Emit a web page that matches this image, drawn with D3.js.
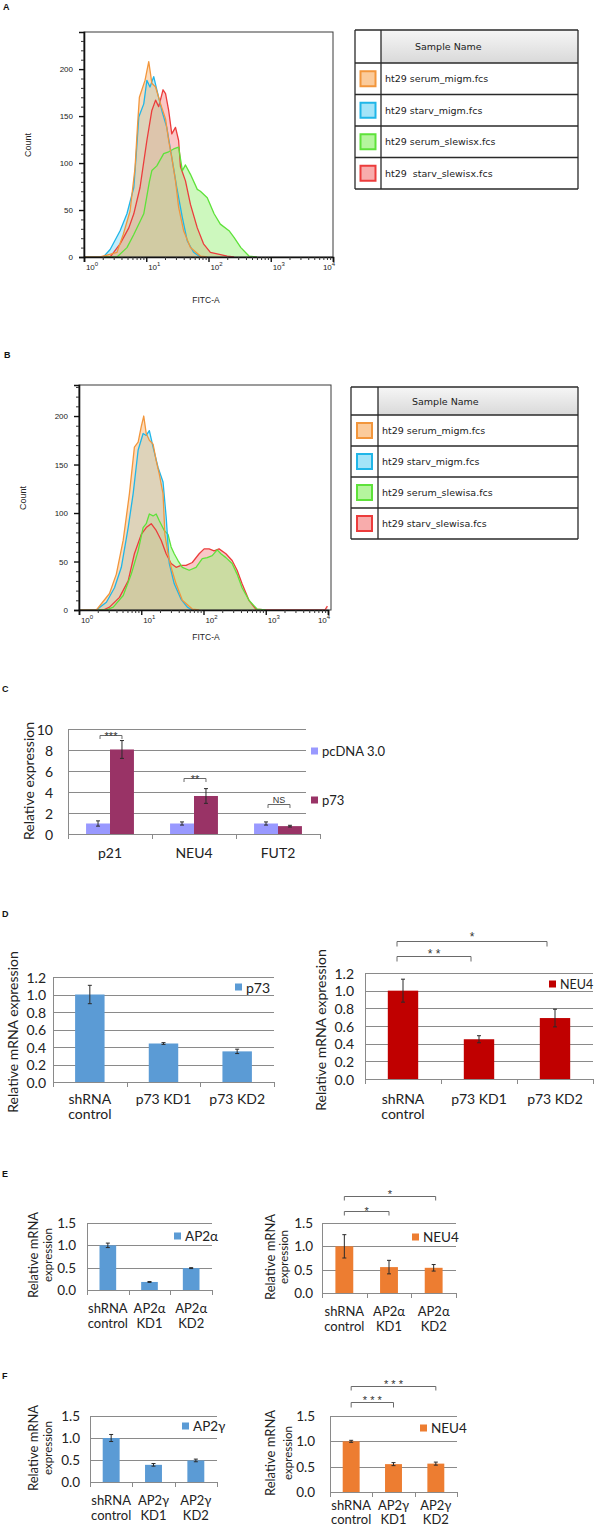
<!DOCTYPE html>
<html><head><meta charset="utf-8">
<script src="https://cdn.jsdelivr.net/npm/d3@7"></script>
<style>body{margin:0;background:#fff} svg{display:block;background:#fff}</style>
</head><body>
<svg id="c" width="594" height="1528"></svg>
<script>
// ---------------- DATA ----------------
// Flow cytometry histograms: [log10(FITC-A), count]
const flowTicksY = [0, 50, 100, 150, 200];
const flowTicksX = [1, 10, 100, 1000, 10000];
const flowTickExp = ["0", "1", "2", "3", "4"];
const flowNamesA = ["ht29 serum_migm.fcs", "ht29 starv_migm.fcs", "ht29 serum_slewisx.fcs", "ht29  starv_slewisx.fcs"];
const flowNamesB = ["ht29 serum_migm.fcs", "ht29 starv_migm.fcs", "ht29 serum_slewisa.fcs", "ht29 starv_slewisa.fcs"];

const aSerumMigm = [[0,0],[0.26,0],[0.53,5],[0.63,24],[0.74,49],[0.82,95],[0.86,140],[0.89,170],[0.93,178],[0.98,188],[1.04,208],[1.09,185],[1.15,181],[1.23,163],[1.31,147],[1.36,124],[1.41,106],[1.47,81],[1.52,53],[1.60,28],[1.71,10],[1.87,1],[1.98,0]];
const aStarvMigm = [[0,0],[0.31,0],[0.42,8],[0.58,28],[0.69,46],[0.80,74],[0.84,110],[0.88,149],[0.96,163],[1.01,188],[1.06,181],[1.12,192],[1.17,178],[1.25,156],[1.33,138],[1.41,106],[1.49,74],[1.58,42],[1.66,17],[1.76,5],[1.87,0]];
const aSerumSlewisx = [[0,0],[0.53,0],[0.69,10],[0.80,24],[0.96,46],[1.05,80],[1.09,92],[1.17,97],[1.28,110],[1.36,112],[1.44,115],[1.52,117],[1.58,92],[1.63,98],[1.71,88],[1.82,72],[1.87,70],[1.98,63],[2.09,46],[2.19,35],[2.33,28],[2.41,21],[2.52,10],[2.65,1],[2.78,0]];
const aStarvSlewisx = [[0,0],[0.42,0],[0.58,14],[0.72,31],[0.80,46],[0.90,74],[1.01,124],[1.09,156],[1.15,167],[1.20,160],[1.27,178],[1.31,174],[1.36,156],[1.41,131],[1.47,138],[1.52,124],[1.55,96],[1.63,81],[1.71,56],[1.82,31],[1.92,14],[2.03,5],[2.30,1],[2.41,0]];

const bSerumMigm = [[0,0],[0.28,0],[0.49,17],[0.60,37],[0.71,72],[0.81,120],[0.89,168],[0.95,173],[1.00,189],[1.04,200],[1.08,182],[1.13,175],[1.19,171],[1.24,154],[1.29,140],[1.35,120],[1.38,78],[1.43,58],[1.48,44],[1.56,27],[1.66,10],[1.82,1],[1.93,0]];
const bStarvMigm = [[0,0],[0.28,0],[0.34,3],[0.44,8],[0.57,23],[0.68,44],[0.79,85],[0.87,120],[0.95,165],[1.03,182],[1.08,180],[1.13,185],[1.19,168],[1.27,147],[1.35,132],[1.40,96],[1.45,48],[1.53,27],[1.64,11],[1.74,3],[1.82,0]];
const bSerumSlewisa = [[0,0],[0.44,0],[0.55,3],[0.71,15],[0.84,37],[0.95,61],[1.03,85],[1.08,89],[1.13,99],[1.19,97],[1.24,99],[1.29,92],[1.37,82],[1.43,78],[1.48,65],[1.53,58],[1.59,51],[1.66,44],[1.77,41],[1.88,44],[1.98,53],[2.06,54],[2.14,56],[2.22,62],[2.28,58],[2.36,54],[2.46,48],[2.54,37],[2.62,23],[2.73,10],[2.86,1],[3.00,0]];
const bStarvSlewisa = [[0,0],[0.39,0],[0.49,3],[0.65,13],[0.79,30],[0.89,58],[1.00,78],[1.08,85],[1.16,89],[1.24,82],[1.32,72],[1.40,58],[1.48,48],[1.56,44],[1.64,46],[1.72,46],[1.82,49],[1.93,58],[2.01,63],[2.09,63],[2.17,61],[2.25,63],[2.36,58],[2.46,51],[2.54,41],[2.62,27],[2.73,10],[2.84,1],[3.00,0],[3.95,0],[3.99,4]];

// Panel C
const cCategories = ["p21", "NEU4", "FUT2"];
const cSeriesNames = ["pcDNA 3.0", "p73"];
const cPcdna = [1.0, 1.0, 1.0];
const cPcdnaErr = [0.25, 0.15, 0.15];
const cP73 = [8.05, 3.62, 0.75];
const cP73Err = [0.85, 0.7, 0.08];
const cTicks = [0, 2, 4, 6, 8, 10];
const cSig = ["***", "**", "NS"];
const cSigLevel = [9.43, 5.33, 2.86];

// Panel D
const dCategories = [["shRNA", "control"], ["p73 KD1"], ["p73 KD2"]];
const dTicks = [0, 0.2, 0.4, 0.6, 0.8, 1.0, 1.2];
const dP73 = [1.0, 0.44, 0.35];
const dP73Err = [0.105, 0.01, 0.025];
const dNeu4 = [1.0, 0.45, 0.69];
const dNeu4Err = [0.13, 0.04, 0.1];
const dSig = ["* *", "*"];
const dSigLevel = [1.393, 1.563];

// Panel E
const eCategories = [["shRNA", "control"], ["AP2α", "KD1"], ["AP2α", "KD2"]];
const efTicks = [0, 0.5, 1.0, 1.5];
const eAp2a = [1.0, 0.18, 0.49];
const eAp2aErr = [0.05, 0.01, 0.01];
const eNeu4 = [1.0, 0.555, 0.54];
const eNeu4Err = [0.25, 0.145, 0.07];
const eSig = ["*", "*"];
const eSigLevel = [1.757, 2.078];

// Panel F
const fCategories = [["shRNA", "control"], ["AP2γ", "KD1"], ["AP2γ", "KD2"]];
const fAp2g = [1.0, 0.39, 0.49];
const fAp2gErr = [0.08, 0.03, 0.03];
const fNeu4 = [1.0, 0.55, 0.56];
const fNeu4Err = [0.02, 0.03, 0.03];
const fSig = ["* * *", "* * *"];
const fSigLevel = [1.776, 2.092];

// ---------------- DRAWING ----------------
const svg = d3.select("#c");
const ARIAL = "'Liberation Sans', Arial, sans-serif";
const CAL = "Lato, 'Noto Sans', 'DejaVu Sans', sans-serif";
const GRID = "#8a8a8a";

const defs = svg.append("defs");
const grad = defs.append("linearGradient").attr("id", "hdr").attr("x1", 0).attr("x2", 0).attr("y1", 0).attr("y2", 1);
grad.append("stop").attr("offset", "0%").attr("stop-color", "#f6f6f6");
grad.append("stop").attr("offset", "100%").attr("stop-color", "#d9d9d9");

function letter(t, x, y) {
  svg.append("text").attr("x", x).attr("y", y).text(t)
    .style("font-family", ARIAL).style("font-size", "9px").style("font-weight", "bold").attr("fill", "#111");
}
letter("A", 3, 10); letter("B", 4, 358); letter("C", 2, 692);
letter("D", 2, 917); letter("E", 2, 1177); letter("F", 2, 1379);

const flowStroke = ["#F2963C", "#20B6E8", "#5EE23A", "#EC3C3C"];
const flowFill = ["#F9B97A", "#86DBF6", "#9CF17E", "#F59090"];

function flowPanel(cfg, series, names) {
  const g = svg.append("g");
  const x = d3.scaleLog().domain([1, 1e4]).range([cfg.left, cfg.xEnd]);
  const y = d3.scaleLinear().domain([0, cfg.cMax]).range([cfg.bottom, cfg.top]);
  const area = d3.area().x(d => x(Math.pow(10, d[0]))).y0(y(0)).y1(d => y(d[1]));
  const line = d3.line().x(d => x(Math.pow(10, d[0]))).y(d => y(d[1]));
  const order = [3, 2, 1, 0];
  order.forEach(i => g.append("path").attr("d", area(series[i])).attr("fill", flowFill[i]).attr("fill-opacity", 0.5));
  order.forEach(i => g.append("path").attr("d", line(series[i])).attr("fill", "none")
    .attr("stroke", flowStroke[i]).attr("stroke-width", 1.3).attr("stroke-linejoin", "round"));
  g.append("rect").attr("x", cfg.left).attr("y", cfg.top).attr("width", cfg.right - cfg.left)
    .attr("height", cfg.bottom - cfg.top).attr("fill", "none").attr("stroke", "#3a3a3a").attr("stroke-width", 1);
  const ya = g.append("g").attr("transform", `translate(${cfg.left},0)`)
    .call(d3.axisLeft(y).tickValues(flowTicksY).tickSize(5).tickPadding(6).tickFormat(d3.format("d")));
  ya.select(".domain").attr("stroke", "#111").attr("stroke-width", 1.6);
  ya.selectAll(".tick line").attr("stroke", "#111").attr("stroke-width", 1.4);
  ya.selectAll("text").style("font-family", ARIAL).style("font-size", "8px").attr("fill", "#222");
  const ym = g.append("g").attr("transform", `translate(${cfg.left},0)`)
    .call(d3.axisLeft(y).tickValues(d3.range(10, cfg.cMax, 10).filter(v => v % 50 !== 0)).tickSize(3).tickFormat(""));
  ym.select(".domain").remove();
  ym.selectAll(".tick line").attr("stroke", "#333");
  const xa = g.append("g").attr("transform", `translate(0,${cfg.bottom})`)
    .call(d3.axisBottom(x).tickValues(flowTicksX).tickSize(5).tickFormat(""));
  xa.select(".domain").attr("stroke", "#111").attr("stroke-width", 1.6);
  xa.selectAll(".tick line").attr("stroke", "#111").attr("stroke-width", 1.4);
  const minors = [];
  for (let e = 0; e < 4; e++) for (let m = 2; m < 10; m++) minors.push(m * Math.pow(10, e));
  const xm = g.append("g").attr("transform", `translate(0,${cfg.bottom})`)
    .call(d3.axisBottom(x).tickValues(minors).tickSize(3).tickFormat(""));
  xm.select(".domain").remove();
  xm.selectAll(".tick line").attr("stroke", "#333");
  const lbl = g.selectAll(".xl").data(flowTicksX).join("text")
    .attr("x", (d, i) => x(d) + (i === 4 ? -4 : 8)).attr("y", cfg.bottom + 13)
    .attr("text-anchor", "middle").style("font-family", ARIAL).style("font-size", "8px").attr("fill", "#222");
  lbl.append("tspan").text("10");
  lbl.append("tspan").attr("dy", -4).style("font-size", "6px").text((d, i) => flowTickExp[i]);
  g.append("text").attr("x", cfg.fitcX).attr("y", cfg.fitcY).attr("text-anchor", "middle").text("FITC-A")
    .style("font-family", ARIAL).style("font-size", "8.5px").attr("fill", "#222");
  g.append("text").attr("transform", `translate(${cfg.countX},${cfg.countY}) rotate(-90)`)
    .attr("text-anchor", "middle").attr("dominant-baseline", "central").text("Count")
    .style("font-family", ARIAL).style("font-size", "9px").attr("fill", "#222");
  const t = cfg.table;
  const tg = svg.append("g");
  tg.append("rect").attr("x", t.col).attr("y", t.top).attr("width", t.right - t.col).attr("height", t.hdr - t.top).attr("fill", "url(#hdr)");
  const rowsY = d3.range(5).map(i => t.hdr + i * t.rowH);
  tg.selectAll(".hl").data([t.top].concat(rowsY)).join("line")
    .attr("x1", t.left).attr("x2", t.right).attr("y1", d => d).attr("y2", d => d)
    .attr("stroke", "#2a2a2a").attr("stroke-width", 1.3);
  tg.selectAll(".vl").data([t.left, t.col, t.right]).join("line")
    .attr("x1", d => d).attr("x2", d => d).attr("y1", t.top).attr("y2", rowsY[4])
    .attr("stroke", "#2a2a2a").attr("stroke-width", 1.3);
  tg.append("text").attr("x", t.col + 34).attr("y", (t.top + t.hdr) / 2).attr("dominant-baseline", "central")
    .text("Sample Name").style("font-family", "'DejaVu Sans', sans-serif").style("font-size", "9.5px").attr("fill", "#222");
  names.forEach((nm, i) => {
    const cy = t.hdr + (i + 0.5) * t.rowH;
    const cx = (t.left + t.col) / 2;
    tg.append("rect").attr("x", cx - 7.5).attr("y", cy - 7.5).attr("width", 15).attr("height", 15)
      .attr("fill", flowFill[i]).attr("fill-opacity", 0.75).attr("stroke", flowStroke[i]).attr("stroke-width", 2);
    tg.append("text").attr("x", t.col + 4).attr("y", cy).attr("dominant-baseline", "central")
      .style("white-space", "pre").attr("xml:space", "preserve").text(nm)
      .style("font-family", "'DejaVu Sans', sans-serif").style("font-size", "9.5px").attr("fill", "#222");
  });
}

flowPanel({left: 84, right: 333, xEnd: 333, top: 32, bottom: 257, cMax: 239.5, fitcX: 206, fitcY: 303, countX: 27.5, countY: 145,
  table: {left: 355, col: 381, right: 578, top: 30, hdr: 63, rowH: 31.5}},
  [aSerumMigm, aStarvMigm, aSerumSlewisx, aStarvSlewisx], flowNamesA);
flowPanel({left: 79, right: 331, xEnd: 328, top: 385, bottom: 610, cMax: 232, fitcX: 206, fitcY: 640, countX: 22.5, countY: 498,
  table: {left: 351, col: 378, right: 578, top: 387, hdr: 415, rowH: 31}},
  [bSerumMigm, bStarvMigm, bSerumSlewisa, bStarvSlewisa], flowNamesB);

// ---------- bar charts ----------
function barChart(cfg) {
  const g = svg.append("g");
  const n = cfg.cats.length;
  const y = d3.scaleLinear().domain([0, cfg.yMax]).range([cfg.yZero, cfg.yTop]);
  const x = d3.scaleBand().domain(d3.range(n)).range([cfg.left, cfg.right]).paddingInner(cfg.pad).paddingOuter(cfg.pad / 2);
  const xs = d3.scaleBand().domain(d3.range(cfg.series.length)).range([0, x.bandwidth()]);
  const fs = cfg.fs;
  g.selectAll(".grid").data(cfg.ticks.filter(t => t > 0)).join("line")
    .attr("x1", cfg.left).attr("x2", cfg.gridRight || cfg.right)
    .attr("y1", d => Math.round(y(d)) + 0.5).attr("y2", d => Math.round(y(d)) + 0.5)
    .attr("stroke", GRID).attr("stroke-width", 1);
  g.append("line").attr("x1", cfg.left + 0.5).attr("x2", cfg.left + 0.5).attr("y1", y(0)).attr("y2", Math.round(y(cfg.yMax)) + 0.5)
    .attr("stroke", GRID);
  g.selectAll(".yl").data(cfg.ticks).join("text")
    .attr("x", cfg.left - cfg.gap).attr("y", d => y(d)).attr("text-anchor", "end").attr("dominant-baseline", "central")
    .text(cfg.fmt).style("font-family", CAL).style("font-size", fs + "px").attr("fill", "#222");
  const cx = (i, si) => x(i) + xs(si) + xs.bandwidth() / 2;
  cfg.series.forEach((s, si) => {
    g.selectAll(null).data(s.values).join("rect")
      .attr("x", (d, i) => x(i) + xs(si)).attr("width", xs.bandwidth())
      .attr("y", d => y(d)).attr("height", d => y(0) - y(d)).attr("fill", s.color);
  });
  cfg.series.forEach((s, si) => {
    s.values.forEach((v, i) => {
      const e = s.errors[i], c = cx(i, si);
      g.append("line").attr("x1", c).attr("x2", c).attr("y1", y(v - e)).attr("y2", y(v + e)).attr("stroke", "#2b2b2b").attr("stroke-width", 1);
      [v - e, v + e].forEach(w => g.append("line").attr("x1", c - 2).attr("x2", c + 2).attr("y1", y(w)).attr("y2", y(w))
        .attr("stroke", "#2b2b2b").attr("stroke-width", 1));
    });
  });
  g.append("line").attr("x1", cfg.left).attr("x2", cfg.right).attr("y1", Math.round(y(0)) + 0.5).attr("y2", Math.round(y(0)) + 0.5).attr("stroke", GRID);
  g.selectAll(".ct").data(d3.range(n + 1).map(i => x.range()[0] + i * x.step())).join("line")
    .attr("x1", d => Math.round(d) + 0.5).attr("x2", d => Math.round(d) + 0.5)
    .attr("y1", y(0)).attr("y2", y(0) + 5).attr("stroke", GRID);
  cfg.cats.forEach((lines, i) => {
    [].concat(lines).forEach((ln, k) => {
      g.append("text").attr("x", x(i) + x.bandwidth() / 2).attr("y", cfg.catY + k * cfg.catLH)
        .attr("text-anchor", "middle").text(ln).style("font-family", CAL).style("font-size", (cfg.catFs || fs) + "px").attr("fill", "#222");
    });
  });
  cfg.legend.forEach((L, li) => {
    const s = cfg.series[li];
    g.append("rect").attr("x", L.x).attr("y", L.y - 3.5).attr("width", 7).attr("height", 7).attr("fill", s.color);
    g.append("text").attr("x", L.x + 11).attr("y", L.y).attr("dominant-baseline", "central").text(s.name)
      .style("font-family", CAL).style("font-size", (cfg.legFs || fs) + "px").attr("fill", "#222");
  });
  (cfg.brackets || []).forEach(b => {
    const x1 = cx(b.a[0], b.a[1]) + (b.dx1 || 0), x2 = cx(b.b[0], b.b[1]) + (b.dx2 || 0);
    const yy = Math.round(y(b.level)) + 0.5;
    g.append("path").attr("d", `M${x1},${yy + b.drop}V${yy}H${x2}V${yy + b.drop}`)
      .attr("fill", "none").attr("stroke", "#6a6a6a").attr("stroke-width", 1);
    g.append("text").attr("x", (x1 + x2) / 2).attr("y", yy - b.up).attr("text-anchor", "middle")
      .text(b.text).style("font-family", ARIAL).style("font-size", b.fs + "px").attr("fill", "#333");
  });
  cfg.ytitle.forEach(t => {
    g.append("text").attr("transform", `translate(${t.x},${cfg.titleY}) rotate(-90)`)
      .attr("text-anchor", "middle").attr("dominant-baseline", "central").text(t.text)
      .style("font-family", CAL).style("font-size", t.fs + "px").attr("fill", "#222");
  });
}

// C
barChart({left: 68, right: 320, gridRight: 306, yZero: 834, yTop: 729, yMax: 10, ticks: cTicks, fmt: d3.format("d"), pad: 0.43, fs: 14,
  cats: cCategories, catY: 858, catLH: 15,
  series: [{name: cSeriesNames[0], values: cPcdna, errors: cPcdnaErr, color: "#9999FF"},
           {name: cSeriesNames[1], values: cP73, errors: cP73Err, color: "#993366"}],
  gap: 15, legend: [{x: 311, y: 751}, {x: 311, y: 800}], legFs: 13,
  brackets: cSig.map((t, i) => ({a: [i, 0], b: [i, 1], level: cSigLevel[i], drop: 3.5, dx1: 2, dx2: 0, text: t,
    up: t === "NS" ? 2 : -4, fs: t === "NS" ? 9 : 11})),
  titleY: 781, ytitle: [{text: "Relative expression", x: 28, fs: 14}]});

// D left
barChart({left: 53, right: 274, yZero: 1082, yTop: 977, yMax: 1.2, ticks: dTicks, fmt: d3.format(".1f"), pad: 0.6, fs: 14,
  cats: dCategories, catY: 1104, catLH: 15,
  series: [{name: "p73", values: dP73, errors: dP73Err, color: "#5B9BD5"}],
  gap: 7, legend: [{x: 235, y: 987}],
  titleY: 1032, ytitle: [{text: "Relative mRNA expression", x: 12, fs: 14}]});

// D right
barChart({left: 365, right: 593, yZero: 1079, yTop: 973, yMax: 1.2, ticks: dTicks, fmt: d3.format(".1f"), pad: 0.6, fs: 14,
  cats: dCategories, catY: 1104, catLH: 15,
  series: [{name: "NEU4", values: dNeu4, errors: dNeu4Err, color: "#C00000"}],
  gap: 11, legend: [{x: 549, y: 984}], legFs: 12.5,
  brackets: [{a: [0, 0], b: [1, 0], level: dSigLevel[0], drop: 5, dx1: -6, dx2: -8, text: dSig[0], up: -1, fs: 12},
             {a: [0, 0], b: [2, 0], level: dSigLevel[1], drop: 5, dx1: -6, dx2: -8, text: dSig[1], up: 1, fs: 12}],
  titleY: 1030, ytitle: [{text: "Relative mRNA expression", x: 320, fs: 14}]});

// E left
barChart({left: 87, right: 212, yZero: 1290, yTop: 1223, yMax: 1.5, ticks: efTicks, fmt: d3.format(".1f"), pad: 0.6, fs: 13.5,
  cats: eCategories, catY: 1313, catLH: 15, catFs: 13,
  series: [{name: "AP2α", values: eAp2a, errors: eAp2aErr, color: "#5B9BD5"}],
  gap: 11, legend: [{x: 174, y: 1236}],
  titleY: 1255, ytitle: [{text: "Relative mRNA", x: 33, fs: 13}, {text: "expression", x: 47, fs: 11.5}]});

// E right
barChart({left: 322, right: 456, yZero: 1293, yTop: 1223, yMax: 1.5, ticks: efTicks, fmt: d3.format(".1f"), pad: 0.6, fs: 13.5,
  cats: eCategories, catY: 1316, catLH: 15, catFs: 13,
  series: [{name: "NEU4", values: eNeu4, errors: eNeu4Err, color: "#ED7D31"}],
  gap: 9, legend: [{x: 412, y: 1237}],
  brackets: [{a: [0, 0], b: [1, 0], level: eSigLevel[0], drop: 4, text: eSig[0], up: -3, fs: 11},
             {a: [0, 0], b: [2, 0], level: eSigLevel[1], drop: 4, dx2: 2, text: eSig[1], up: -1, fs: 11}],
  titleY: 1257, ytitle: [{text: "Relative mRNA", x: 270, fs: 13}, {text: "expression", x: 283, fs: 11.5}]});

// F left
barChart({left: 90, right: 217, yZero: 1482, yTop: 1416, yMax: 1.5, ticks: efTicks, fmt: d3.format(".1f"), pad: 0.6, fs: 13.5,
  cats: fCategories, catY: 1505, catLH: 15, catFs: 13,
  series: [{name: "AP2γ", values: fAp2g, errors: fAp2gErr, color: "#5B9BD5"}],
  gap: 10, legend: [{x: 182, y: 1426}],
  titleY: 1448, ytitle: [{text: "Relative mRNA", x: 33, fs: 13}, {text: "expression", x: 47, fs: 11.5}]});

// F right
barChart({left: 330, right: 457, yZero: 1492, yTop: 1416, yMax: 1.5, ticks: efTicks, fmt: d3.format(".1f"), pad: 0.6, fs: 13.5,
  cats: fCategories, catY: 1510, catLH: 14, catFs: 13,
  series: [{name: "NEU4", values: fNeu4, errors: fNeu4Err, color: "#ED7D31"}],
  gap: 15, legend: [{x: 420, y: 1428}],
  brackets: [{a: [0, 0], b: [1, 0], level: fSigLevel[0], drop: 5, text: fSig[0], up: -1, fs: 11},
             {a: [0, 0], b: [2, 0], level: fSigLevel[1], drop: 4, text: fSig[1], up: -1, fs: 11}],
  titleY: 1453, ytitle: [{text: "Relative mRNA", x: 270, fs: 13}, {text: "expression", x: 287, fs: 11.5}]});
</script>
</body></html>
